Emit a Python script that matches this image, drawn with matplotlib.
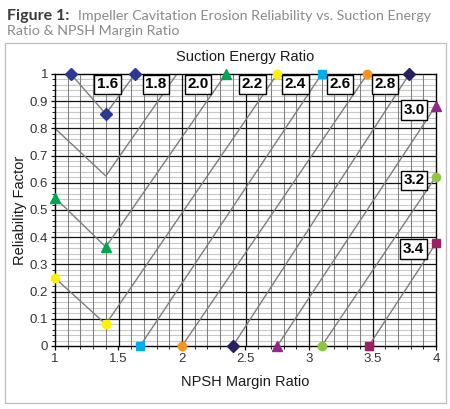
import matplotlib
matplotlib.use("Agg")
from matplotlib import pyplot as plt
from matplotlib.patches import Rectangle
import numpy as np

# suction energy ratio curves: (x, y) points
ser_labels = ['1.6', '1.8', '2.0', '2.2', '2.4', '2.6', '2.8', '3.0', '3.2', '3.4']
ser_x = [
    [1.125, 1.40, 1.63],
    [1.00, 1.40, 1.96],
    [1.00, 1.40, 2.345],
    [1.00, 1.40, 2.75],
    [1.67, 3.10],
    [2.00, 3.46],
    [2.40, 3.79],
    [2.75, 4.00],
    [3.10, 4.00],
    [3.47, 4.00],
]
ser_y = [
    [1.00, 0.853, 1.00],
    [0.80, 0.625, 1.00],
    [0.545, 0.364, 1.00],
    [0.25, 0.08, 1.00],
    [0.00, 1.00],
    [0.00, 1.00],
    [0.00, 1.00],
    [0.00, 0.884],
    [0.00, 0.623],
    [0.00, 0.378],
]

x_ticks = [1, 1.5, 2, 2.5, 3, 3.5, 4]
x_tick_labels = ['1', '1.5', '2', '2.5', '3', '3.5', '4']
y_ticks = [0, 0.1, 0.2, 0.3, 0.4, 0.5, 0.6, 0.7, 0.8, 0.9, 1.0]
y_tick_labels = ['0', '0.1', '0.2', '0.3', '0.4', '0.5', '0.6', '0.7', '0.8', '0.9', '1']

# marker style per series (None = no marker)
markers = ['D', None, '^', 'o', 's', 'o', 'D', '^', 'o', 's']
mcolors = ['#2b3a8f', None, '#00a651', '#fff200', '#00aeef', '#f7941d',
           '#262262', '#92278f', '#8dc63f', '#9e1f63']
msizes = [6.5, 0, 7, 6, 5.5, 6, 6.5, 7, 6, 5.5]
# label box positions (data coords)
label_pos = [(1.413, 0.962), (1.795, 0.962), (2.126, 0.962), (2.555, 0.962),
             (2.894, 0.962), (3.244, 0.962), (3.598, 0.962),
             (3.827, 0.867), (3.827, 0.609), (3.823, 0.357)]

chart_font = ['Liberation Sans', 'DejaVu Sans']
title_font = ['Lato', 'DejaVu Sans']

fig = plt.figure(figsize=(4.5, 4.09), dpi=100)
fig.patch.set_facecolor('white')

# outer light frame around the chart
fig.add_artist(Rectangle((5 / 450, 1 - 403 / 409), 441 / 450, 360 / 409,
                         transform=fig.transFigure, fill=False,
                         edgecolor='#bdbdbd', lw=0.9))

fig.text(7 / 450, 1 - 20 / 409, 'Figure 1:', fontsize=11.5, fontweight='bold',
         color='#3a3a3a', family=title_font)
fig.text(78 / 450, 1 - 20 / 409, 'Impeller Cavitation Erosion Reliability vs. Suction Energy',
         fontsize=10.3, color='#8a8a8a', family=title_font)
fig.text(7 / 450, 1 - 35 / 409, 'Ratio & NPSH Margin Ratio',
         fontsize=10.3, color='#8a8a8a', family=title_font)

ax = fig.add_axes([55 / 450, 1 - 346 / 409, 381 / 450, 272 / 409])
ax.set_xlim(1, 4)
ax.set_ylim(0, 1)

# grid
for xv in np.arange(1.1, 4.0, 0.1):
    major = abs(xv * 2 - round(xv * 2)) < 1e-6
    ax.axvline(xv, color='#111111' if major else '#808080',
               lw=0.9 if major else 0.75, zorder=1)
for yv in np.arange(0.02, 1.0, 0.02):
    major = abs(yv * 10 - round(yv * 10)) < 1e-6
    ax.axhline(yv, color='#111111' if major else '#c8c8c8',
               lw=0.9 if major else 0.8, zorder=1 if major else 0.5)

for i in range(len(ser_labels)):
    ax.plot(ser_x[i], ser_y[i], color='#7d7d7d', lw=1.0, zorder=3)
    if markers[i]:
        ax.plot(ser_x[i], ser_y[i], ls='none', marker=markers[i], ms=msizes[i],
                mfc=mcolors[i], mec=mcolors[i], zorder=5, clip_on=False)
    lx, ly = label_pos[i]
    ax.text(lx, ly, ser_labels[i], ha='center', va='center', fontsize=11,
            fontweight='bold', family=chart_font, color='black', zorder=6,
            bbox=dict(boxstyle='square,pad=0.18', fc='white', ec='black', lw=1.0))

for s in ax.spines.values():
    s.set_color('black')
    s.set_linewidth(1.0)
    s.set_zorder(4)

ax.set_xticks(x_ticks)
ax.set_xticklabels(x_tick_labels)
ax.set_yticks(y_ticks)
ax.set_yticklabels(y_tick_labels)
ax.set_xticks(np.arange(1, 4.01, 0.1), minor=True)
ax.set_yticks(np.arange(0, 1.001, 0.02), minor=True)
ax.tick_params(which='major', direction='out', length=3, width=0.9, color='black',
               labelsize=9.5, labelcolor='#333333', pad=2)
ax.tick_params(which='minor', direction='out', length=2, width=0.6, color='black')
for t in ax.get_xticklabels() + ax.get_yticklabels():
    t.set_family(chart_font)

ax.set_title('Suction Energy Ratio', fontsize=10.5, family=chart_font, color='#1a1a1a', pad=9)
ax.set_xlabel('NPSH Margin Ratio', fontsize=10.5, family=chart_font, color='#1a1a1a')
ax.set_ylabel('Reliability Factor', fontsize=10.5, family=chart_font, color='#1a1a1a')
ax.xaxis.set_label_coords(0.5, (346 - 382) / 272)
ax.xaxis.label.set_va('center')
ax.yaxis.set_label_coords((20 - 55) / 381, 0.5)
ax.yaxis.label.set_va('center')

fig.savefig('out.png', dpi=100)
